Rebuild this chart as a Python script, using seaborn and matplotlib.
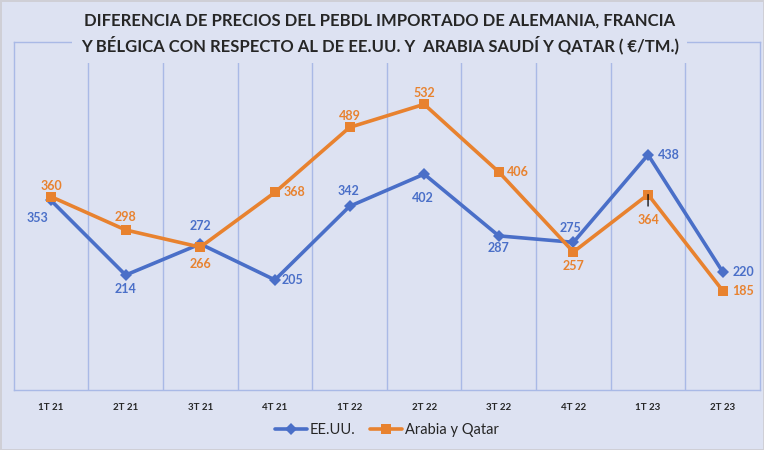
import matplotlib
matplotlib.use("Agg")
import matplotlib.pyplot as plt
import seaborn as sns
import pandas as pd

quarters = ["1T 21", "2T 21", "3T 21", "4T 21", "1T 22", "2T 22", "3T 22", "4T 22", "1T 23", "2T 23"]
eeuu = [353, 214, 272, 205, 342, 402, 287, 275, 438, 220]
arabia = [360, 298, 266, 368, 489, 532, 406, 257, 364, 185]

# label placement (offset in points) for each point
eeuu_pos = [(-10, -13), (0, -10), (0, 13), (13, 0), (-1, 11), (-1, -17), (0, -9), (-2, 10), (15, 0), (15, 0)]
arabia_pos = [(0, 8), (0, 9), (0, -12), (14, 0), (0, 8), (0, 8), (14, 0), (0, -10), (0, -18), (15, 0)]

BG = "#dde2f2"
GRID = "#a9b9e6"
BLUE = "#4a6fc8"
ORANGE = "#e8822f"

sns.set_style("white")
plt.rcParams["font.family"] = ["Lato", "DejaVu Sans"]

fig = plt.figure(figsize=(7.64, 4.5), dpi=100)
fig.patch.set_facecolor(BG)
fig.patch.set_edgecolor("#cfcfd6")
fig.patch.set_linewidth(2)
ax = fig.add_axes([13.7 / 764, 1 - 390 / 450, 746.3 / 764, 348 / 450])
ax.set_facecolor(BG)

x = list(range(len(quarters)))
df = pd.DataFrame({"x": x, "EE.UU.": eeuu, "Arabia y Qatar": arabia})

sns.lineplot(data=df, x="x", y="EE.UU.", ax=ax, color=BLUE, lw=2.6, marker="D",
             markersize=6, markeredgewidth=0, label="EE.UU.", zorder=3)
sns.lineplot(data=df, x="x", y="Arabia y Qatar", ax=ax, color=ORANGE, lw=2.6, marker="s",
             markersize=7, markeredgewidth=0, label="Arabia y Qatar", zorder=3)

for i in x:
    ax.annotate(str(eeuu[i]), (i, eeuu[i]), xytext=eeuu_pos[i], textcoords="offset points",
                ha="center", va="center", color=BLUE, fontsize=9, fontweight="bold")
    props = None
    if i == 8:
        # leader line from the label to its point
        props = dict(arrowstyle="-", color="black", lw=0.9, shrinkA=3, shrinkB=0)
    ax.annotate(str(arabia[i]), (i, arabia[i]), xytext=arabia_pos[i], textcoords="offset points",
                ha="center", va="center", color=ORANGE, fontsize=9, fontweight="bold",
                arrowprops=props, zorder=4)

ax.set_xlim(-0.5, len(quarters) - 0.5)
ax.set_ylim(0, 648)
ax.set_xticks(x)
ax.set_xticklabels(quarters, fontsize=7, fontweight="bold")
ax.set_yticks([])
ax.tick_params(axis="x", length=0, pad=9)
ax.set_xlabel("")
ax.set_ylabel("")
for b in range(1, len(quarters)):
    ax.axvline(b - 0.5, color=GRID, lw=1, zorder=1)
for s in ax.spines.values():
    s.set_color(GRID)
    s.set_linewidth(1)

ax.legend(loc="center", bbox_to_anchor=(0.5, -0.115), ncol=2, frameon=False,
          fontsize=10.5, handlelength=2.2, columnspacing=1.0, handletextpad=0.2)

fig.text(0.497, 0.925, "DIFERENCIA DE PRECIOS DEL PEBDL IMPORTADO DE ALEMANIA, FRANCIA\n"
         "Y BÉLGICA CON RESPECTO AL DE EE.UU. Y  ARABIA SAUDÍ Y QATAR ( €/TM.)",
         ha="center", va="center", fontsize=12, fontweight="bold", linespacing=1.45,
         bbox=dict(facecolor=BG, edgecolor="none", pad=6))

fig.savefig("out.png", dpi=100, facecolor=BG, edgecolor=fig.patch.get_edgecolor())
